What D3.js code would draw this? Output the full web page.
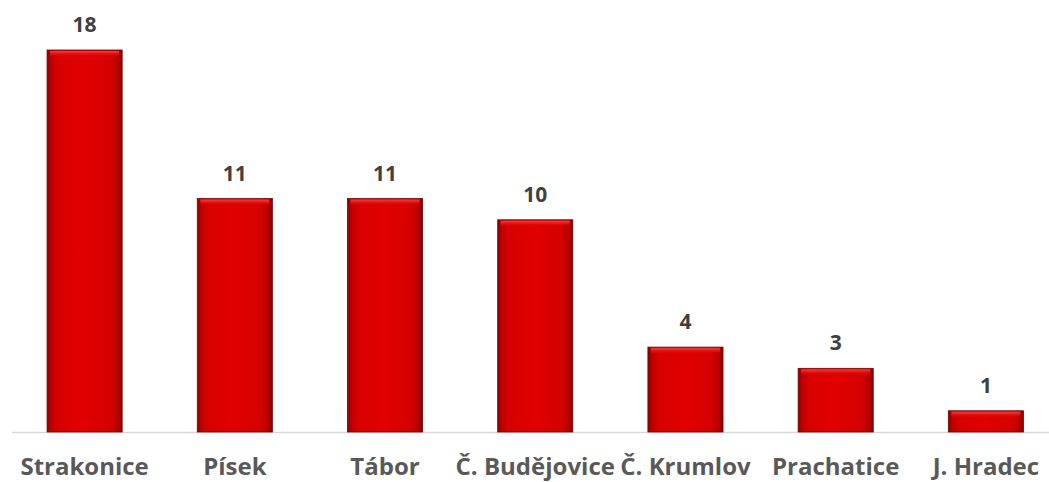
<!DOCTYPE html>
<html><head><meta charset="utf-8">
<script src="https://cdn.jsdelivr.net/npm/d3@7"></script>
<style>body{margin:0;background:#fff}svg{display:block}</style>
</head><body>
<script>
const categories = ["Strakonice","Písek","Tábor","Č. Budějovice","Č. Krumlov","Prachatice","J. Hradec"];
const values = [18,11,11,10,4,3,1];

const W = 1049, H = 482;
const svg = d3.select("body").append("svg").attr("width",W).attr("height",H);
const baseY = 432;
const x = d3.scaleBand().domain(categories).range([9.5, 1061]).paddingInner(0.5).paddingOuter(0.25);
const y = d3.scaleLinear().domain([0,18]).range([baseY, 50]);

const defs = svg.append("defs");
const g1 = defs.append("linearGradient").attr("id","hg").attr("x1","0").attr("x2","1").attr("y1","0").attr("y2","0");
[[0,"#8e0000"],[0.06,"#c00000"],[0.15,"#d90000"],[0.5,"#e00000"],[0.85,"#d50000"],[0.94,"#b80000"],[1,"#850000"]]
  .forEach(([o,c])=>g1.append("stop").attr("offset",o).attr("stop-color",c));
const g2 = defs.append("linearGradient").attr("id","vg").attr("x1","0").attr("x2","0").attr("y1","0").attr("y2","1");
[[0,"#f04040"],[0.5,"#e01010"],[1,"rgba(224,0,0,0)"]].forEach(([o,c])=>g2.append("stop").attr("offset",o).attr("stop-color",c));

svg.append("line").attr("x1",12).attr("x2",W).attr("y1",baseY+0.5).attr("y2",baseY+0.5)
  .attr("stroke","#d9d9d9").attr("stroke-width",1.5);

const bars = svg.selectAll("g.bar").data(categories).enter().append("g").attr("class","bar");
bars.append("rect")
  .attr("x",d=>x(d)).attr("width",x.bandwidth())
  .attr("y",(d,i)=>y(values[i])).attr("height",(d,i)=>baseY-y(values[i]))
  .attr("fill","url(#hg)").attr("stroke","#7a0000").attr("stroke-width",0.8);
bars.append("rect")
  .attr("x",d=>x(d)+3).attr("width",x.bandwidth()-6)
  .attr("y",(d,i)=>y(values[i])+1).attr("height",6)
  .attr("fill","url(#vg)");

svg.selectAll("text.val").data(categories).enter().append("text").attr("class","val")
  .attr("x",d=>x(d)+x.bandwidth()/2).attr("y",(d,i)=>y(values[i])-18)
  .attr("text-anchor","middle").attr("font-family","'Open Sans', sans-serif").attr("font-weight","bold")
  .attr("font-size",21).attr("fill","#404040").text((d,i)=>values[i]);

svg.selectAll("text.cat").data(categories).enter().append("text").attr("class","cat")
  .attr("x",d=>x(d)+x.bandwidth()/2).attr("y",475)
  .attr("text-anchor","middle").attr("font-family","'Open Sans', sans-serif").attr("font-weight","bold")
  .attr("font-size",24).attr("fill","#595959").text(d=>d);
</script>
</body></html>
